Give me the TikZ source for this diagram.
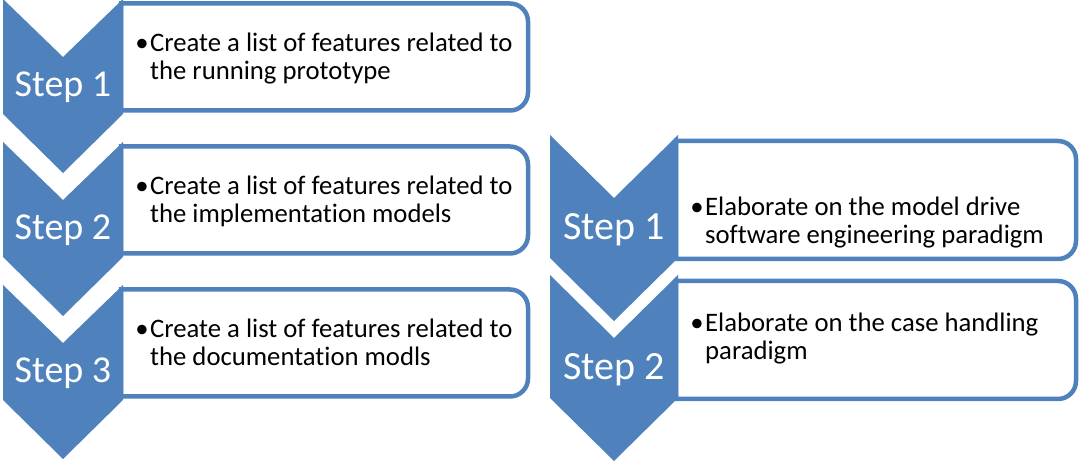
\documentclass[tikz,border=0pt]{standalone}
\usepackage{fontspec}
\setmainfont{Carlito}[RawFeature={-liga;-clig;-dlig}]
\definecolor{acc}{HTML}{4F81BD}
\begin{document}
\begin{tikzpicture}[x=1pt,y=1pt,
  chev/.style={fill=acc,draw=none},
  boxline/.style={draw=acc,line width=4.5pt,fill=white},
  steplbl/.style={text=white,font=\fontsize{38}{38}\selectfont,inner sep=0,anchor=base},
  steplblr/.style={text=white,font=\fontsize{40}{40}\selectfont,inner sep=0,anchor=base},
  body/.style={font=\fontsize{26.7}{28}\selectfont,inner sep=0,anchor=base west}]
\useasboundingbox (0,0) rectangle (1080,-462);
% ---- left column boxes
\draw[boxline] (121,-3.5) -- (510,-3.5) arc[start angle=90,end angle=0,radius=18] -- (528,-92.5) arc[start angle=0,end angle=-90,radius=18] -- (121,-110.5) -- cycle;
\draw[boxline] (121,-146.5) -- (510,-146.5) arc[start angle=90,end angle=0,radius=18] -- (528,-235.5) arc[start angle=0,end angle=-90,radius=18] -- (121,-253.5) -- cycle;
\draw[boxline] (121,-289.5) -- (510,-289.5) arc[start angle=90,end angle=0,radius=18] -- (528,-378.5) arc[start angle=0,end angle=-90,radius=18] -- (121,-396.5) -- cycle;
% ---- left chevrons
\fill[chev] (3,1) -- (63,-57) -- (123,1) -- (123,-114) -- (63,-173) -- (3,-114) -- cycle;
\fill[chev] (3,-142) -- (63,-200) -- (123,-142) -- (123,-257) -- (63,-316) -- (3,-257) -- cycle;
\fill[chev] (3,-285) -- (63,-343) -- (123,-285) -- (123,-400) -- (63,-459) -- (3,-400) -- cycle;
% ---- right column boxes
\draw[boxline] (676,-141) -- (1058,-141) arc[start angle=90,end angle=0,radius=18] -- (1076,-241) arc[start angle=0,end angle=-90,radius=18] -- (676,-259) -- cycle;
\draw[boxline] (676,-281) -- (1058,-281) arc[start angle=90,end angle=0,radius=18] -- (1076,-381) arc[start angle=0,end angle=-90,radius=18] -- (676,-399) -- cycle;
% ---- right chevrons
\fill[chev] (550,-135) -- (614,-198) -- (678,-135) -- (678,-258) -- (614,-321) -- (550,-258) -- cycle;
\fill[chev] (550,-275) -- (614,-338) -- (678,-275) -- (678,-398) -- (614,-461) -- (550,-398) -- cycle;
% ---- step labels
\node[steplbl] (s1) at (63,-97) {Step 1};
\node[steplbl] (s2) at (63,-240) {Step 2};
\node[steplbl] (s3) at (63,-383) {Step 3};
\node[steplblr] (r1) at (614,-240) {Step 1};
\node[steplblr] (r2) at (614,-380) {Step 2};
% ---- body texts
\node[body] (t1a) at (150,-52) {\llap{•\hspace{1.5pt}}Create a list of features related to};
\node[body] (t1b) at (150,-80) {the running prototype};
\node[body] (t2a) at (150,-195) {\llap{•\hspace{1.5pt}}Create a list of features related to};
\node[body] (t2b) at (150,-223) {the implementation models};
\node[body] (t3a) at (150,-338) {\llap{•\hspace{1.5pt}}Create a list of features related to};
\node[body] (t3b) at (150,-366) {the documentation modls};
\node[body] (u1a) at (705,-216) {\llap{•\hspace{1.5pt}}Elaborate on the model drive};
\node[body] (u1b) at (705,-244) {software engineering paradigm};
\node[body] (u2a) at (705,-332) {\llap{•\hspace{1.5pt}}Elaborate on the case handling};
\node[body] (u2b) at (705,-360) {paradigm};
\end{tikzpicture}
\end{document}
